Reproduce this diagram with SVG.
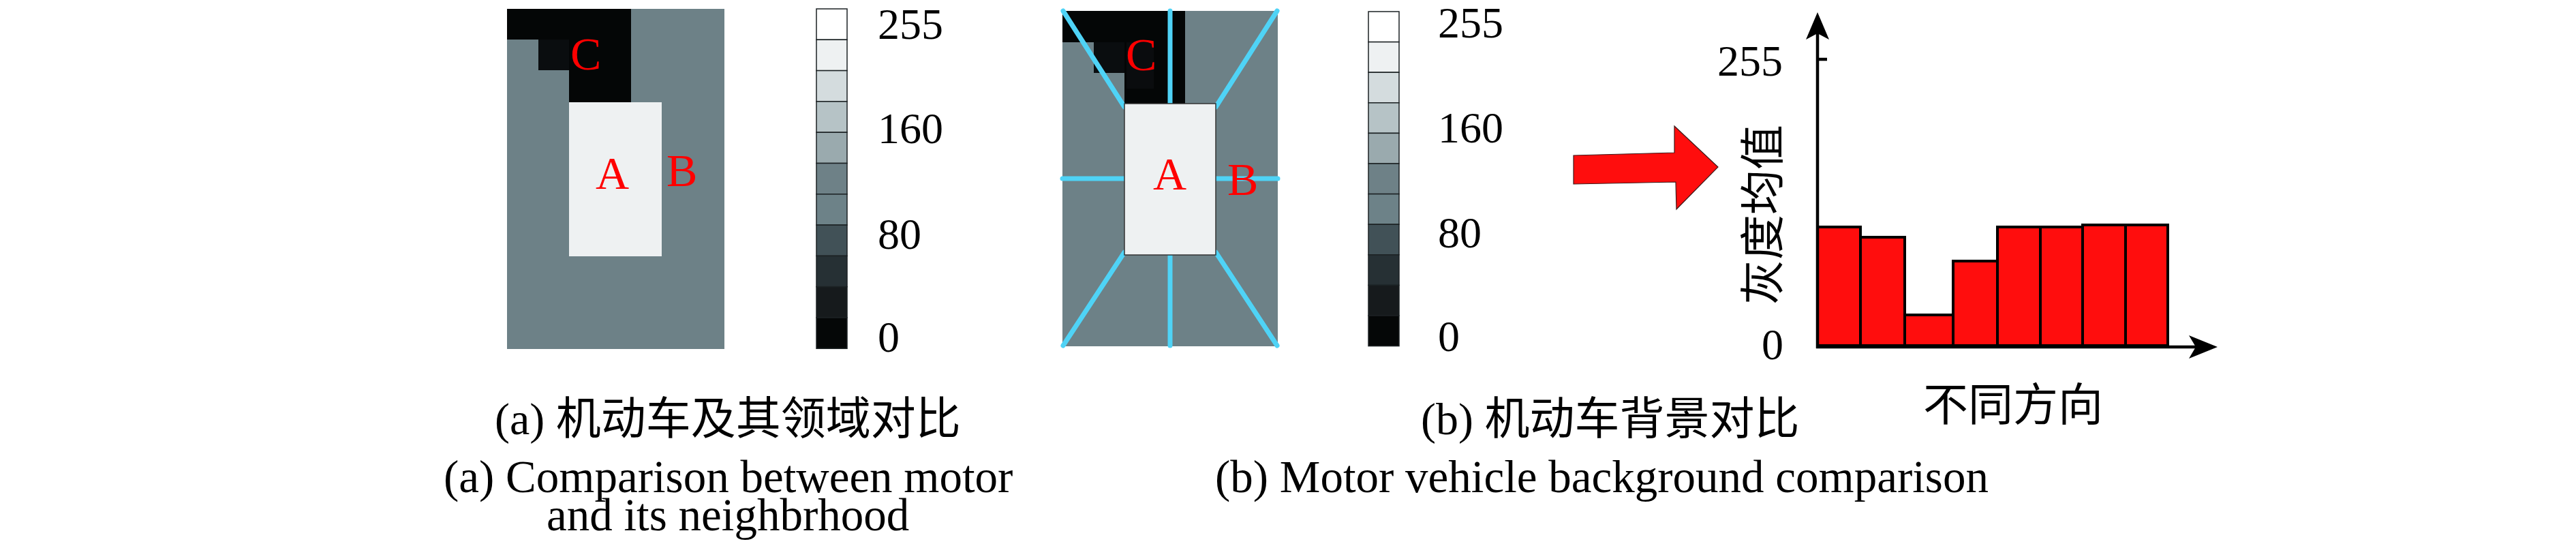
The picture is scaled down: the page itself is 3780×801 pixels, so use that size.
<svg xmlns="http://www.w3.org/2000/svg" width="3780" height="801" viewBox="0 0 3780 801">
<style>
.serif{font-family:'Liberation Serif','Times New Roman','Noto Sans CJK SC',serif;}
.cap{font-family:'Liberation Serif','Noto Sans CJK SC',serif;font-size:67px;fill:#000;}
.cjk{font-family:'Liberation Serif','Noto Sans CJK SC',serif;font-size:66px;fill:#000;}
.num{font-family:'Liberation Serif',serif;font-size:64px;fill:#000;}
.lab{font-family:'Liberation Serif',serif;font-size:68px;fill:#ff0000;}
.gray{fill:#6d8187;}
.blk{fill:#040606;}
.lite{fill:#eef1f2;}
.cell{stroke:#1c2224;stroke-width:1.5;}
.ray{stroke:#4fd3f6;stroke-width:7;stroke-linecap:round;fill:none;}
.bar{fill:#ff0d0d;stroke:#000;stroke-width:4;}
.axis{stroke:#000;stroke-width:4.5;fill:none;}
</style>

<g id="grid-a">
<rect class="gray" x="744" y="13" width="319" height="499"/>
<rect class="blk" x="744" y="13" width="182" height="45"/>
<rect class="blk" x="835" y="58" width="91" height="92"/>
<rect fill="#0a0d0f" x="790" y="58" width="45" height="45"/>
<rect class="lite" x="835" y="150" width="136" height="226"/>
<text class="lab" x="837" y="102">C</text>
<text class="lab" x="874" y="277">A</text>
<text class="lab" x="978" y="273">B</text>
</g>

<g id="colorbar-a">
<rect class="cell" x="1198" y="13" width="45" height="45.3" fill="#ffffff"/>
<rect class="cell" x="1198" y="58.3" width="45" height="45.3" fill="#eef1f2"/>
<rect class="cell" x="1198" y="103.6" width="45" height="45.3" fill="#d4dcde"/>
<rect class="cell" x="1198" y="148.9" width="45" height="45.3" fill="#b6c3c6"/>
<rect class="cell" x="1198" y="194.2" width="45" height="45.3" fill="#9aaaae"/>
<rect class="cell" x="1198" y="239.5" width="45" height="45.3" fill="#6e8187"/>
<rect class="cell" x="1198" y="284.8" width="45" height="45.3" fill="#6d8288"/>
<rect class="cell" x="1198" y="330.1" width="45" height="45.3" fill="#415157"/>
<rect class="cell" x="1198" y="375.4" width="45" height="45.3" fill="#263034"/>
<rect class="cell" x="1198" y="420.7" width="45" height="45.3" fill="#161a1c"/>
<rect class="cell" x="1198" y="466" width="45" height="45.3" fill="#050707"/>
<text class="num" x="1288" y="57">255</text>
<text class="num" x="1288" y="210">160</text>
<text class="num" x="1288" y="365">80</text>
<text class="num" x="1288" y="516">0</text>
</g>

<g id="grid-b">
<rect class="gray" x="1559" y="16" width="316" height="492"/>
<rect class="blk" x="1559" y="16" width="180" height="46"/>
<rect class="blk" x="1650" y="62" width="89" height="90"/>
<rect fill="#0a0d0f" x="1605" y="62" width="45" height="45"/>
<rect fill="#0a0c0e" x="1653" y="62" width="40" height="68"/>
<g id="rays">
<line class="ray" x1="1560" y1="16" x2="1650" y2="157"/>
<line class="ray" x1="1717" y1="16" x2="1717" y2="152"/>
<line class="ray" x1="1874" y1="16" x2="1784" y2="157"/>
<line class="ray" x1="1559" y1="262" x2="1650" y2="262"/>
<line class="ray" x1="1784" y1="262" x2="1875" y2="262"/>
<line class="ray" x1="1560" y1="507" x2="1650" y2="370"/>
<line class="ray" x1="1717" y1="374" x2="1717" y2="507"/>
<line class="ray" x1="1874" y1="507" x2="1784" y2="370"/>
</g>
<rect class="lite" x="1650" y="152" width="134" height="222" stroke="#333" stroke-width="1.5"/>
<text class="lab" x="1652" y="103">C</text>
<text class="lab" x="1692" y="278">A</text>
<text class="lab" x="1801" y="286">B</text>
</g>

<g id="colorbar-b">
<rect class="cell" x="2008" y="17" width="45" height="44.6" fill="#ffffff"/>
<rect class="cell" x="2008" y="61.6" width="45" height="44.6" fill="#eef1f2"/>
<rect class="cell" x="2008" y="106.2" width="45" height="44.6" fill="#d4dcde"/>
<rect class="cell" x="2008" y="150.8" width="45" height="44.6" fill="#b6c3c6"/>
<rect class="cell" x="2008" y="195.4" width="45" height="44.6" fill="#9aaaae"/>
<rect class="cell" x="2008" y="240" width="45" height="44.6" fill="#6e8187"/>
<rect class="cell" x="2008" y="284.6" width="45" height="44.6" fill="#6d8288"/>
<rect class="cell" x="2008" y="329.2" width="45" height="44.6" fill="#415157"/>
<rect class="cell" x="2008" y="373.8" width="45" height="44.6" fill="#263034"/>
<rect class="cell" x="2008" y="418.4" width="45" height="44.6" fill="#161a1c"/>
<rect class="cell" x="2008" y="463" width="45" height="44.6" fill="#050707"/>
<text class="num" x="2110" y="55">255</text>
<text class="num" x="2110" y="209">160</text>
<text class="num" x="2110" y="363">80</text>
<text class="num" x="2110" y="515">0</text>
</g>

<g id="arrow">
<polygon points="2309,228 2457,224 2457,185 2521,245 2460,307 2459,267 2309,270" fill="#ff0d0d" stroke="#3a1a1a" stroke-width="1.2"/>
</g>

<g id="chart">
<rect class="bar" x="2667" y="333" width="63" height="174"/>
<rect class="bar" x="2730" y="348" width="65" height="159"/>
<rect class="bar" x="2795" y="462" width="71" height="45"/>
<rect class="bar" x="2866" y="383" width="65" height="124"/>
<rect class="bar" x="2931" y="333" width="63" height="174"/>
<rect class="bar" x="2994" y="333" width="62" height="174"/>
<rect class="bar" x="3056" y="330" width="63" height="177"/>
<rect class="bar" x="3119" y="330" width="62" height="177"/>
<text class="num" x="2520" y="111">255</text>
<text class="num" x="2585" y="527">0</text>
<text class="cjk" x="2610" y="315" text-anchor="middle" transform="rotate(-90 2610 315)">灰度均值</text>
<text class="cjk" x="2822" y="617">不同方向</text>
</g>

<g id="connectors">
<line class="axis" x1="2667" y1="45" x2="2667" y2="511"/>
<line class="axis" x1="2665" y1="509" x2="3225" y2="509"/>
<line class="axis" x1="2667" y1="87" x2="2681" y2="87"/>
<polygon points="2667,18 2684,58 2667,49 2650,58" fill="#000"/>
<polygon points="3254,509 3212,526 3222,509 3212,492" fill="#000"/>
</g>

<g id="captions">
<text class="cjk" x="726" y="637">(a) 机动车及其领域对比</text>
<text class="cap" x="651" y="722">(a) Comparison between motor</text>
<text class="cap" x="802" y="778">and its neighbrhood</text>
<text class="cjk" x="2085" y="637">(b) 机动车背景对比</text>
<text class="cap" x="1783" y="722">(b) Motor vehicle background comparison</text>
</g>
</svg>
